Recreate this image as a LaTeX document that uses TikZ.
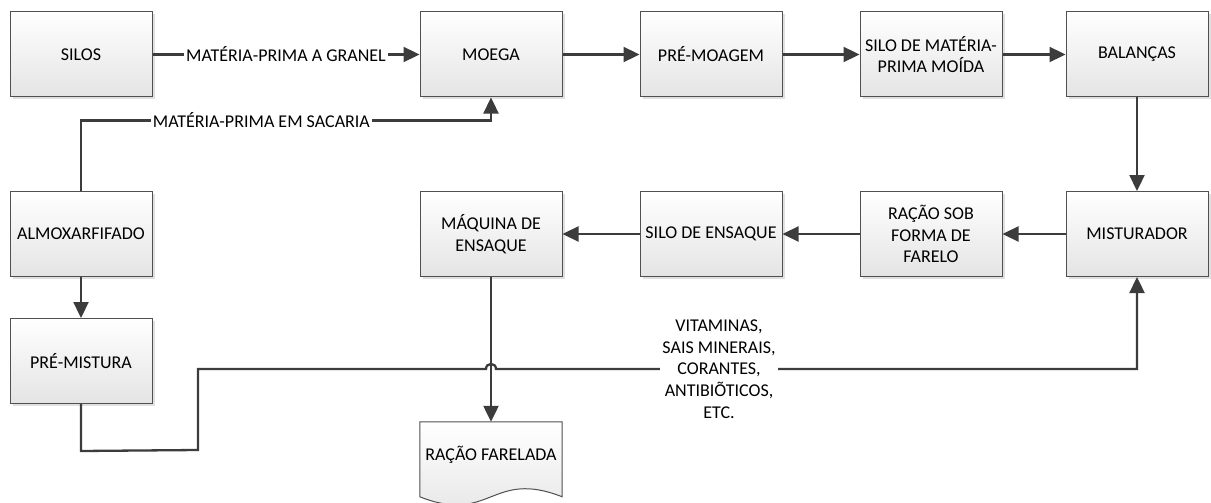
\documentclass[tikz,border=0pt]{standalone}
\usepackage{fontspec}
\setmainfont{Carlito}
\definecolor{boxedge}{RGB}{80, 80, 80}
\definecolor{flowgray}{RGB}{60, 60, 60}
\definecolor{shadebottom}{RGB}{228, 228, 228}
\usetikzlibrary{arrows.meta, positioning, calc, shadows, backgrounds}

\tikzset{
  box/.style={draw=boxedge, line width=1pt, top color=white, bottom color=shadebottom,
    minimum width=142pt, minimum height=85pt, align=center, inner sep=2pt,
    drop shadow={shadow xshift=2.5pt, shadow yshift=-2.5pt, fill=black, opacity=0.12}},
  flow/.style={draw=flowgray, line width=2.3pt, -{Triangle[length=16pt, width=15pt]}},
  lbl/.style={fill=white, inner xsep=2pt, inner ysep=1pt, align=center}
}

\begin{document}
\begin{tikzpicture}[x=1pt, y=-1pt, font=\fontsize{18}{21.7}\selectfont]
  \useasboundingbox (0,0) rectangle (1211,503);

  \node[box] (silos)   at (81, 54.5)   {SILOS};
  \node[box] (moega)   at (491, 54.5)  {MOEGA};
  \node[box] (premoag) at (711, 54.5)  {PRÉ-MOAGEM};
  \node[box] (silomp)  at (931, 54.5)  {SILO DE MATÉRIA-\\PRIMA MOÍDA};
  \node[box] (balanca) at (1137, 54.5) {BALANÇAS};

  \node[box] (almox)   at (81, 234)   {ALMOXARFIFADO};
  \node[box] (maquina) at (491, 234)  {MÁQUINA DE\\ENSAQUE};
  \node[box] (siloens) at (711, 234)  {SILO DE ENSAQUE};
  \node[box] (racao)   at (931, 234)  {RAÇÃO SOB\\FORMA DE\\FARELO};
  \node[box] (mistur)  at (1137, 234) {MISTURADOR};

  \node[box] (premist) at (81, 361)   {PRÉ-MISTURA};

  \node[minimum width=142pt, minimum height=66pt, inner sep=0pt] (racfar) at (491, 455) {RAÇÃO FARELADA};
  \coordinate (docl) at ($(racfar.north west)+(0,75)$);
  \coordinate (docr) at ($(racfar.north east)+(0,75)$);
  \begin{scope}[on background layer]
    \draw[draw=boxedge, line width=1pt, top color=white, bottom color=shadebottom]
      (racfar.north west) -- (docl)
      .. controls ($(docl)+(71,28)$) and ($(docr)+(-71,-28)$) .. (docr)
      -- (racfar.north east) -- cycle;
  \end{scope}

  \draw[flow] (silos) -- node[lbl] {MATÉRIA-PRIMA A GRANEL} (moega);
  \draw[flow] (moega) -- (premoag);
  \draw[flow] (premoag) -- (silomp);
  \draw[flow] (silomp) -- (balanca);
  \draw[flow] (balanca) -- (mistur);
  \draw[flow] (mistur) -- (racao);
  \draw[flow] (racao) -- (siloens);
  \draw[flow] (siloens) -- (maquina);
  \draw[flow] (almox) -- (premist);
  \draw[flow] (maquina) -- (racfar.north);

  \coordinate (sacbend) at ($(moega.south)+(0,23)$);
  \draw[flow] (almox.north) |- node[lbl, pos=0.72] {MATÉRIA-PRIMA EM SACARIA} (sacbend) -- (moega.south);

  \coordinate (mix1) at ($(premist.south)+(0,47)$);
  \coordinate (mix2) at (198, 450);
  \coordinate (mix3) at (198, 369);
  \coordinate (hopl) at ($(maquina.south |- mix3)+(-5,0)$);
  \coordinate (hopr) at ($(maquina.south |- mix3)+(5,0)$);
  \draw[flow] (premist.south) -- (mix1) -- (mix2) -- (mix3) -- (hopl)
    .. controls ($(hopl)+(0,-6.7)$) and ($(hopr)+(0,-6.7)$) .. (hopr)
    -- node[lbl, pos=0.348] {VITAMINAS,\\SAIS MINERAIS,\\CORANTES,\\ANTIBIÕTICOS,\\ETC.} (mistur.south |- mix3)
    -- (mistur.south);
\end{tikzpicture}
\end{document}
